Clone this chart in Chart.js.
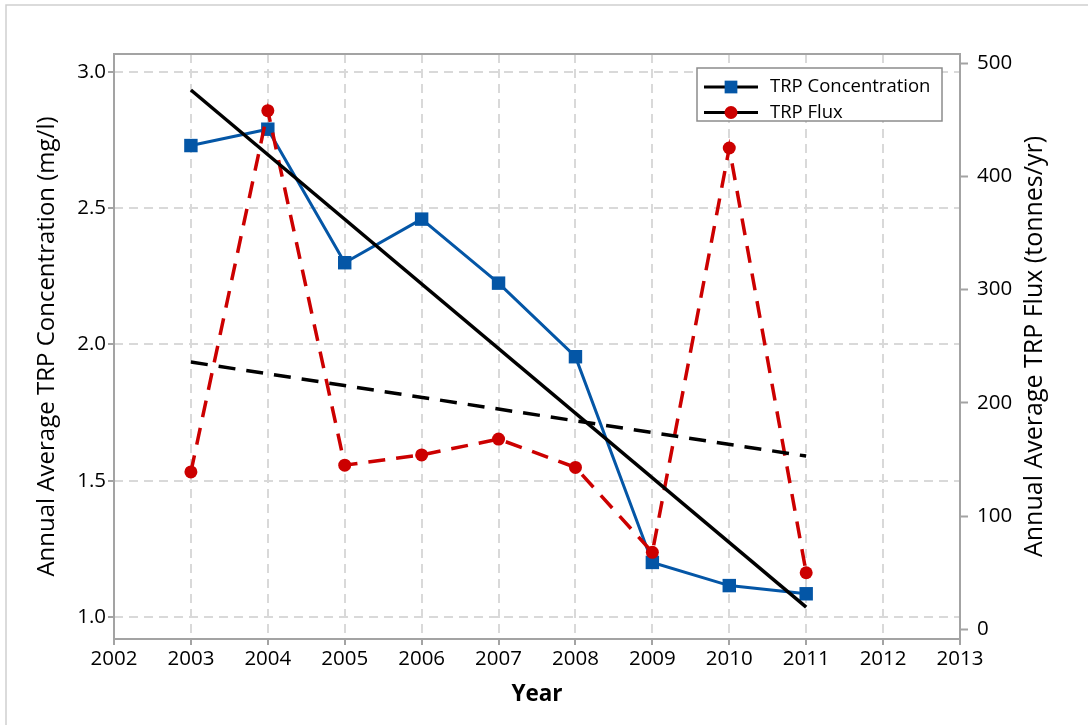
<!DOCTYPE html>
<html>
<head>
<meta charset="utf-8">
<script src="https://cdn.jsdelivr.net/npm/chart.js@4"></script>
<style>
  html, body { margin: 0; padding: 0; background: #fff; }
  #wrap { width: 1088px; height: 725px; position: relative; }
</style>
</head>
<body>
<div id="wrap"><canvas id="myChart" width="1088" height="725"></canvas></div>
<script>
// data
const years = [2003, 2004, 2005, 2006, 2007, 2008, 2009, 2010, 2011];
const concentration = [2.73, 2.79, 2.30, 2.46, 2.225, 1.955, 1.20, 1.115, 1.085];
const flux = [139, 458, 145, 154, 168, 143, 68, 425, 50];
const trendYears = [2003, 2011];
const concTrend = [2.934, 1.036];
const fluxTrend = [236, 153];
const leftTicks = [1.0, 1.5, 2.0, 2.5, 3.0];
const rightTicks = [0, 100, 200, 300, 400, 500];
const legendNames = ['TRP Concentration', 'TRP Flux'];
const rightTitle = 'Annual Average TRP Flux (tonnes/yr)';

const FONT = '"Open Sans", "Noto Sans", sans-serif';
const BLUE = '#0456a6';
const RED = '#cc0000';
const GRID = '#d9d9d9';
const AXIS = '#a3a3a3';

function pts(xs, ys) {
    return xs.map((x, i) => ({ x: x, y: ys[i] }));
}

// frame, outer border, right title and the legend box
const decor = {
    id: 'decor',
    beforeDraw: function (chart) {
        const ctx = chart.ctx;
        ctx.save();
        ctx.strokeStyle = '#cfcfcf';
        ctx.lineWidth = 1.5;
        ctx.beginPath();
        ctx.moveTo(6, 725);
        ctx.lineTo(6, 5);
        ctx.lineTo(1088, 5);
        ctx.stroke();
        ctx.restore();
    },
    afterDatasetsDraw: function (chart) {
        const ctx = chart.ctx;
        const a = chart.chartArea;
        ctx.save();
        ctx.strokeStyle = AXIS;
        ctx.lineWidth = 2;
        ctx.strokeRect(a.left, a.top, a.right - a.left, a.bottom - a.top);

        // right axis title, reading bottom to top like the left one
        ctx.save();
        ctx.translate(1035, (a.top + a.bottom) / 2);
        ctx.rotate(-Math.PI / 2);
        ctx.fillStyle = '#000';
        ctx.font = '25px ' + FONT;
        ctx.textAlign = 'center';
        ctx.textBaseline = 'middle';
        ctx.fillText(rightTitle, 0, 0);
        ctx.restore();

        // legend
        const lx = 697, ly = 68, lw = 245, lh = 53;
        ctx.fillStyle = '#fff';
        ctx.fillRect(lx, ly, lw, lh);
        ctx.strokeStyle = '#8c8c8c';
        ctx.lineWidth = 1.5;
        ctx.strokeRect(lx, ly, lw, lh);
        const rows = [
            { y: 87, color: BLUE, style: 'rect', r: 9 },
            { y: 112.5, color: RED, style: 'circle', r: 6.5 }
        ];
        rows.forEach(function (row, i) {
            ctx.strokeStyle = '#000';
            ctx.lineWidth = 3;
            ctx.beginPath();
            ctx.moveTo(704, row.y);
            ctx.lineTo(758, row.y);
            ctx.stroke();
            ctx.fillStyle = row.color;
            ctx.beginPath();
            if (row.style === 'rect') {
                const s = row.r * Math.SQRT1_2;
                ctx.fillRect(731 - s, row.y - s, 2 * s, 2 * s);
            } else {
                ctx.arc(731, row.y, row.r, 0, Math.PI * 2);
                ctx.fill();
            }
            ctx.fillStyle = '#000';
            ctx.font = '18.5px ' + FONT;
            ctx.textAlign = 'left';
            ctx.textBaseline = 'middle';
            ctx.fillText(legendNames[i], 770, row.y);
        });
        ctx.restore();
    }
};

const ctx = document.getElementById('myChart').getContext('2d');
new Chart(ctx, {
    type: 'scatter',
    data: {
        datasets: [
            {
                label: 'Concentration trend',
                data: pts(trendYears, concTrend),
                yAxisID: 'y',
                showLine: true,
                borderColor: '#000',
                borderWidth: 3.5,
                pointRadius: 0
            },
            {
                label: 'Flux trend',
                data: pts(trendYears, fluxTrend),
                yAxisID: 'y1',
                showLine: true,
                borderColor: '#000',
                borderWidth: 3.5,
                borderDash: [17, 11],
                pointRadius: 0
            },
            {
                label: legendNames[1],
                data: pts(years, flux),
                yAxisID: 'y1',
                showLine: true,
                borderColor: RED,
                borderWidth: 3.5,
                borderDash: [17, 11],
                pointStyle: 'circle',
                pointRadius: 6.5,
                pointBackgroundColor: RED,
                pointBorderWidth: 0
            },
            {
                label: legendNames[0],
                data: pts(years, concentration),
                yAxisID: 'y',
                showLine: true,
                borderColor: BLUE,
                borderWidth: 3,
                pointStyle: 'rect',
                pointRadius: 9.5,
                pointBackgroundColor: BLUE,
                pointBorderWidth: 0
            }
        ]
    },
    options: {
        responsive: false,
        animation: false,
        layout: { padding: { top: 54, left: 0, right: 0, bottom: 0 } },
        plugins: {
            legend: { display: false },
            tooltip: { enabled: false }
        },
        scales: {
            x: {
                type: 'linear',
                min: 2002,
                max: 2013,
                afterFit: function (s) { s.height = 86; },
                ticks: {
                    stepSize: 1,
                    color: '#000',
                    font: { family: FONT, size: 20.5 },
                    padding: 2,
                    maxRotation: 0,
                    callback: function (v) { return String(v); }
                },
                grid: {
                    color: GRID,
                    lineWidth: 2,
                    tickLength: 6,
                    tickColor: AXIS,
                    tickWidth: 2,
                    tickBorderDash: []
                },
                border: { display: false, dash: [9, 6] },
                title: {
                    display: true,
                    text: 'Year',
                    color: '#000',
                    font: { family: FONT, size: 22.5, weight: 'bold' },
                    padding: { top: 0, bottom: 17 }
                }
            },
            y: {
                type: 'linear',
                position: 'left',
                min: 0.919,
                max: 3.066,
                afterFit: function (s) { s.width = 114; },
                afterBuildTicks: function (s) {
                    s.ticks = leftTicks.map(v => ({ value: v }));
                },
                ticks: {
                    color: '#000',
                    font: { family: FONT, size: 20.5 },
                    padding: 2,
                    callback: function (v) { return v.toFixed(1); }
                },
                grid: {
                    color: GRID,
                    lineWidth: 2,
                    tickLength: 6,
                    tickColor: AXIS,
                    tickWidth: 2,
                    tickBorderDash: []
                },
                border: { display: false, dash: [9, 6] },
                title: {
                    display: true,
                    text: 'Annual Average TRP Concentration (mg/l)',
                    color: '#000',
                    font: { family: FONT, size: 24 },
                    padding: { top: 33, bottom: 0 }
                }
            },
            y1: {
                type: 'linear',
                position: 'right',
                min: -8.5,
                max: 508,
                afterFit: function (s) { s.width = 128; },
                afterBuildTicks: function (s) {
                    s.ticks = rightTicks.map(v => ({ value: v }));
                },
                ticks: {
                    color: '#000',
                    font: { family: FONT, size: 20.5 },
                    padding: 9
                },
                grid: {
                    drawOnChartArea: false,
                    tickLength: 8,
                    tickColor: AXIS,
                    tickWidth: 2,
                    tickBorderDash: []
                },
                border: { display: false },
                title: { display: false }
            }
        }
    },
    plugins: [decor]
});
</script>
</body>
</html>
